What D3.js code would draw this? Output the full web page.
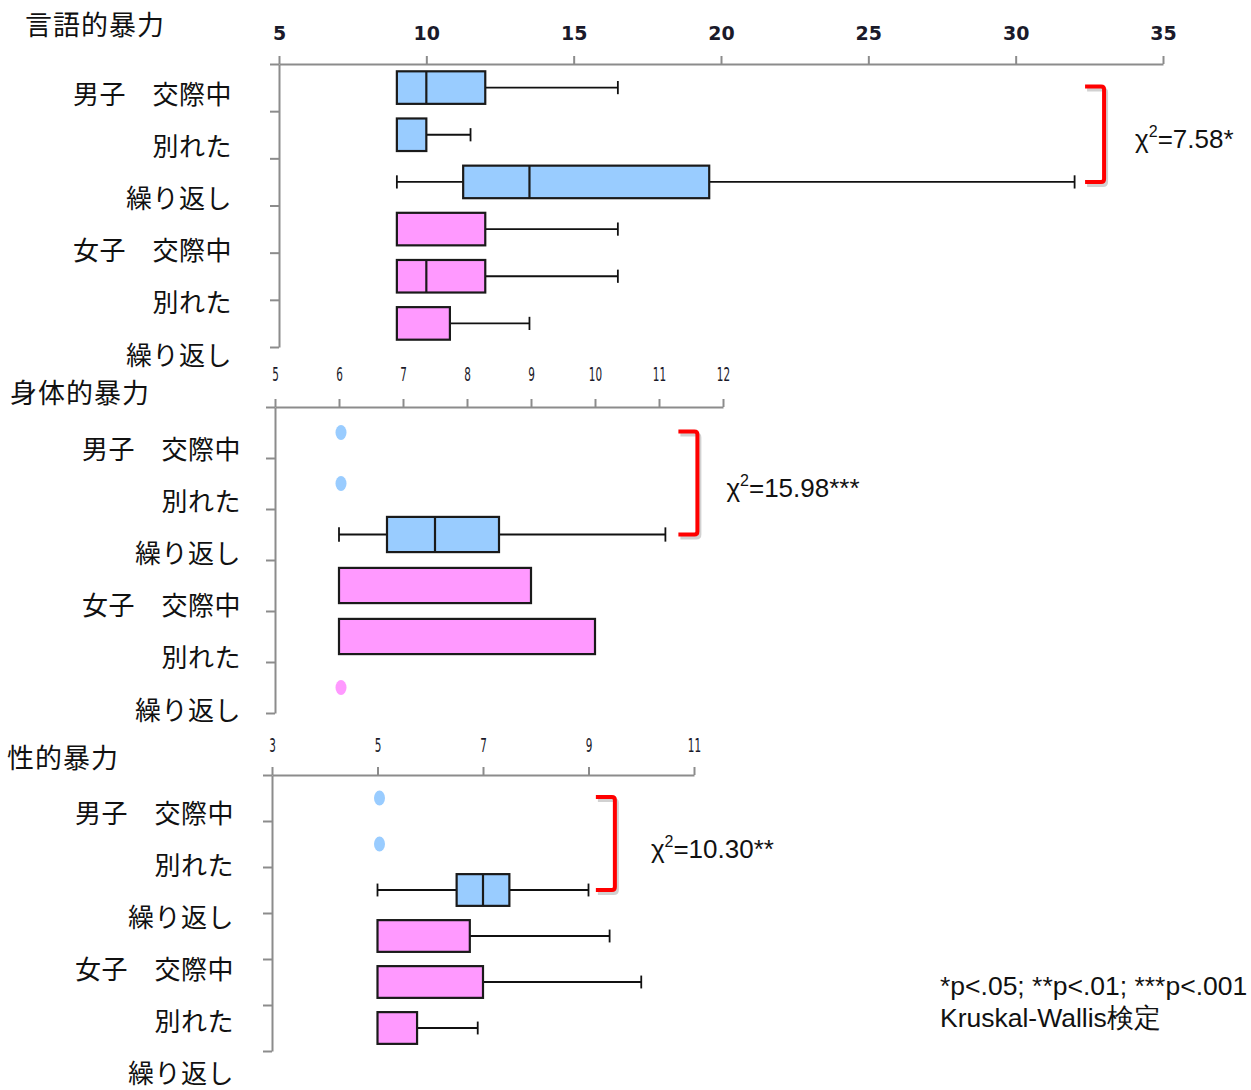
<!DOCTYPE html>
<html>
<head>
<meta charset="utf-8">
<script src="https://cdn.jsdelivr.net/npm/d3@7"></script>
<style>
body{margin:0;background:#fff;}
svg{display:block;}
.title,.cat{font-family:"Noto Sans CJK JP",sans-serif;fill:#111;}
.title{font-size:27px;letter-spacing:1px;}
.cat{font-size:26px;letter-spacing:0.5px;}
.axis path,.axis line{stroke:#8c8c8c;stroke-width:2;}
.chi,.note{font-family:"Liberation Sans",Arial,sans-serif;fill:#111;}
.chi{font-size:26px;}
.note{font-size:26.5px;}
</style>
</head>
<body>
<svg width="1251" height="1090"></svg>
<script>
var svg = d3.select('svg');

// rows (top to bottom) and which group they belong to
var categories = ['男子\u3000交際中','別れた','繰り返し','女子\u3000交際中','別れた','繰り返し'];
var groups = ['男子','男子','男子','女子','女子','女子'];

// [min, q1, median, q3, max]
var verbalStats = [
    [9, 9, 10, 12, 16.5],
    [9, 9, 9, 10, 11.5],
    [9, 11.25, 13.5, 19.6, 32],
    [9, 9, 9, 12, 16.5],
    [9, 9, 10, 12, 16.5],
    [9, 9, 9, 10.8, 13.5]
];
var physicalStats = [
    [6, 6, 6, 6, 6],
    [6, 6, 6, 6, 6],
    [6, 6.75, 7.5, 8.5, 11.1],
    [6, 6, 6, 9, 9],
    [6, 6, 6, 10, 10],
    [6, 6, 6, 6, 6]
];
var sexualStats = [
    [5, 5, 5, 5, 5],
    [5, 5, 5, 5, 5],
    [5, 6.5, 7, 7.5, 9],
    [5, 5, 5, 6.75, 9.4],
    [5, 5, 5, 7, 10],
    [5, 5, 5, 5.75, 6.9]
];

var verbalTicks = [5, 10, 15, 20, 25, 30, 35];
var physicalTicks = [5, 6, 7, 8, 9, 10, 11, 12];
var sexualTicks = [3, 5, 7, 9, 11];

var panelTitles = ['言語的暴力', '身体的暴力', '性的暴力'];
var chiLabels = ['7.58*', '15.98***', '10.30**'];
var bracketValues = [33, 11.6, 9.5];   // where the red bracket sits on each x scale
var footnotes = ['*p<.05; **p<.01; ***p<.001', 'Kruskal-Wallis検定'];

var groupColor = {'男子': '#99ccff', '女子': '#ff99ff'};

// layout of the three panels
var panels = [
    {stats: verbalStats, ticks: verbalTicks, x: [279, 1163], y: [64, 347],
     labels: [92, 353], labelX: 232, titleX: 25, titleY: 23, pad: 16, narrow: false, chiGap: 31},
    {stats: physicalStats, ticks: physicalTicks, x: [275, 723], y: [407, 713],
     labels: [447, 708], labelX: 241, titleX: 10, titleY: 391, pad: 18, narrow: true, chiGap: 29},
    {stats: sexualStats, ticks: sexualTicks, x: [272, 694], y: [775, 1051],
     labels: [811, 1071], labelX: 234, titleX: 7, titleY: 756, pad: 15, narrow: true, chiGap: 36}
];

panels.forEach(function(p, k){ drawPanel(p, k); });

function drawPanel(p, k){
    var g = svg.append('g').attr('class', 'panel');
    var ticks = p.ticks;
    var x = d3.scaleLinear().domain([ticks[0], ticks[ticks.length-1]]).range(p.x);
    var yEdge = d3.scaleLinear().domain([0, categories.length]).range(p.y);
    var step = yEdge(1) - yEdge(0);
    var boxH = step * 0.69;
    var capH = step * 0.28;
    var yLab = d3.scalePoint().domain(d3.range(categories.length)).range(p.labels);

    // title
    g.append('text')
        .attr('class', 'title')
        .attr('x', p.titleX)
        .attr('y', p.titleY)
        .attr('dominant-baseline', 'central')
        .text(panelTitles[k]);

    // top value axis
    var ax = g.append('g')
        .attr('class', 'axis')
        .attr('transform', 'translate(0,' + p.y[0] + ')')
        .call(d3.axisTop(x).tickValues(ticks).tickFormat(d3.format('d'))
            .tickSize(8).tickSizeOuter(0).tickPadding(p.pad));
    ax.selectAll('text')
        .style('font-family', 'DejaVu Sans, sans-serif')
        .style('fill', '#1a1a2a');
    if(p.narrow){
        ax.selectAll('text')
            .style('font-size', '19px')
            .attr('transform', 'scale(0.55,1)');
    } else {
        ax.selectAll('text')
            .style('font-size', '19px')
            .style('font-weight', 'bold');
    }

    // left category axis
    g.append('g')
        .attr('class', 'axis')
        .attr('transform', 'translate(' + p.x[0] + ',0)')
        .call(d3.axisLeft(yEdge).tickValues(d3.range(categories.length + 1))
            .tickSize(9).tickSizeOuter(0).tickFormat(''));

    // category labels
    g.selectAll('.cat')
        .data(categories)
        .enter().append('text')
        .attr('class', 'cat')
        .attr('x', p.labelX)
        .attr('y', function(d, i){ return yLab(i); })
        .attr('text-anchor', 'end')
        .attr('dominant-baseline', 'central')
        .text(function(d){ return d; });

    // boxes
    var rows = g.selectAll('.row')
        .data(p.stats)
        .enter().append('g')
        .attr('class', 'row')
        .attr('transform', function(d, i){ return 'translate(0,' + yEdge(i + 0.5) + ')'; });

    rows.each(function(d, i){
        var r = d3.select(this);
        var col = groupColor[groups[i]];
        if(d[1] === d[3]){
            // single value: draw a dot
            r.append('ellipse')
                .attr('cx', x(d[2]) + 2)
                .attr('cy', 0)
                .attr('rx', 5.5)
                .attr('ry', 7.5)
                .style('fill', col);
            return;
        }
        if(d[0] < d[1]){
            r.append('line')
                .attr('x1', x(d[0])).attr('x2', x(d[1]))
                .style('stroke', '#111').style('stroke-width', 1.8);
            r.append('line')
                .attr('x1', x(d[0])).attr('x2', x(d[0]))
                .attr('y1', -capH/2).attr('y2', capH/2)
                .style('stroke', '#111').style('stroke-width', 1.8);
        }
        if(d[4] > d[3]){
            r.append('line')
                .attr('x1', x(d[3])).attr('x2', x(d[4]))
                .style('stroke', '#111').style('stroke-width', 1.8);
            r.append('line')
                .attr('x1', x(d[4])).attr('x2', x(d[4]))
                .attr('y1', -capH/2).attr('y2', capH/2)
                .style('stroke', '#111').style('stroke-width', 1.8);
        }
        r.append('rect')
            .attr('x', x(d[1]))
            .attr('y', -boxH/2)
            .attr('width', x(d[3]) - x(d[1]))
            .attr('height', boxH)
            .style('fill', col)
            .style('stroke', '#1a1a1a')
            .style('stroke-width', 2.2);
        if(d[2] > d[1] && d[2] < d[3]){
            r.append('line')
                .attr('x1', x(d[2])).attr('x2', x(d[2]))
                .attr('y1', -boxH/2).attr('y2', boxH/2)
                .style('stroke', '#1a1a1a').style('stroke-width', 2.2);
        }
    });

    // red bracket over the boys' rows
    var bx = x(bracketValues[k]);
    var bTop = yEdge(0.5) - 1, bBot = yEdge(2.5);
    var bPath = 'M' + (bx - 19) + ',' + bTop + 'L' + (bx - 3) + ',' + bTop +
        'Q' + bx + ',' + bTop + ' ' + bx + ',' + (bTop + 3) +
        'L' + bx + ',' + (bBot - 3) +
        'Q' + bx + ',' + bBot + ' ' + (bx - 3) + ',' + bBot +
        'L' + (bx - 19) + ',' + bBot;
    g.append('path')
        .attr('d', bPath)
        .attr('transform', 'translate(2,3)')
        .style('fill', 'none').style('stroke', '#000').style('stroke-opacity', 0.18)
        .style('stroke-width', 4);
    g.append('path')
        .attr('d', bPath)
        .style('fill', 'none').style('stroke', '#ff0000').style('stroke-width', 4);

    var chi = g.append('text')
        .attr('class', 'chi')
        .attr('x', bx + p.chiGap)
        .attr('y', (bTop + bBot)/2 + 14);
    chi.append('tspan').text('χ');
    chi.append('tspan').attr('dy', -11).style('font-size', '16px').text('2');
    chi.append('tspan').attr('dy', 11).text('=' + chiLabels[k]);
}

// footnote
svg.selectAll('.note')
    .data(footnotes)
    .enter().append('text')
    .attr('class', 'note')
    .attr('x', 940)
    .attr('y', function(d, i){ return 995 + i*32; })
    .text(function(d){ return d; });
</script>
</body>
</html>
